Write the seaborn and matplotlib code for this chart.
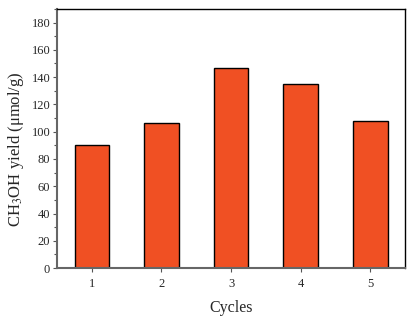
import seaborn as sns
import matplotlib.pyplot as plt
import pandas as pd
from matplotlib.ticker import MultipleLocator

# datos
cycles = [1, 2, 3, 4, 5]
yield_vals = [90.4, 106.6, 146.7, 135.0, 108.0]

df = pd.DataFrame({'Cycles': cycles, 'yield': yield_vals})

sns.set_style('ticks')
plt.rcParams['font.family'] = ['Liberation Serif', 'DejaVu Serif']
plt.rcParams['mathtext.fontset'] = 'stix'

fig = plt.figure(figsize=(4.14, 3.18), dpi=100)
ax = fig.add_axes([0.138, 0.157, 0.840, 0.815])

sns.barplot(data=df, x='Cycles', y='yield', native_scale=True, width=0.5,
            color='#F05023', saturation=1, edgecolor='black', linewidth=1, ax=ax)

ax.set_xlim(0.5, 5.5)
ax.set_ylim(0, 190)
ax.yaxis.set_major_locator(MultipleLocator(20))
ax.yaxis.set_minor_locator(MultipleLocator(10))
ax.set_xticks(cycles)
ax.tick_params(axis='both', labelsize=9, direction='out', length=3, width=0.8,
               color='#555555', pad=2)
ax.tick_params(axis='x', pad=4)
ax.tick_params(axis='y', which='minor', length=2, width=0.8, color='#555555')

for s in ['top', 'right']:
    ax.spines[s].set_color('black')
    ax.spines[s].set_linewidth(1)
for s in ['left', 'bottom']:
    ax.spines[s].set_color('#666666')
    ax.spines[s].set_linewidth(1.5)

ax.set_xlabel('Cycles', fontsize=11.5, labelpad=7)
ax.set_ylabel('CH$_3$OH yield (μmol/g)', fontsize=12, labelpad=4)
ax.yaxis.set_label_coords(-0.09, 0.46)

fig.savefig('out.png', dpi=100)
